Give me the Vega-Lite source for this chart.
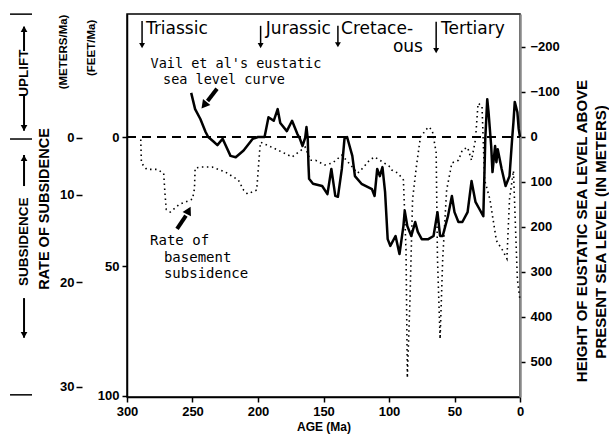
{
  "$schema": "https://vega.github.io/schema/vega-lite/v6.json",
  "width": 393,
  "height": 383,
  "autosize": {"type": "none"},
  "padding": {"left": 127, "top": 14, "right": 89, "bottom": 41},
  "background": "white",
  "config": {
    "view": {"stroke": "black", "strokeWidth": 1.5},
    "axis": {"grid": false, "labelFont": "Liberation Sans", "labelFontWeight": "bold", "labelFontSize": 13, "labelColor": "black", "domainColor": "black", "domainWidth": 1.5, "tickColor": "black", "tickWidth": 1.5, "titleFont": "Liberation Sans", "titleFontWeight": "bold", "titleFontSize": 12, "titleColor": "black", "labelFlush": false}
  },
  "encoding": {
    "x": {"field": "age", "type": "quantitative", "scale": {"domain": [0, 300], "reverse": true, "nice": false, "zero": false}, "axis": {"values": [300, 250, 200, 150, 100, 50, 0], "tickSize": 5, "labelPadding": 3, "title": "AGE (Ma)", "titlePadding": 3}}
  },
  "layer": [
    {
      "encoding": {
        "y": {"field": "m", "type": "quantitative", "scale": {"domain": [-273.3, 577.8], "reverse": true, "nice": false, "zero": false}, "axis": {"orient": "right", "values": [-200, -100, 0, 100, 200, 300, 400, 500], "title": null, "tickSize": 5, "labelPadding": 5, "domainColor": "#888", "domainWidth": 2.5}}
      },
      "layer": [
        {
          "data": {"values": [{"age": 300, "age2": 0, "m": 0}]},
          "mark": {"type": "rule", "strokeDash": [9, 6], "strokeWidth": 2, "color": "black"},
          "encoding": {"x2": {"field": "age2"}}
        },
        {
          "data": {"values": [
            {"age": 251, "m": -98}, {"age": 248, "m": -62}, {"age": 244, "m": -40}, {"age": 240, "m": -11},
            {"age": 238, "m": 0}, {"age": 234, "m": 10}, {"age": 231, "m": 18}, {"age": 227, "m": 4},
            {"age": 221, "m": 42}, {"age": 217, "m": 45}, {"age": 211, "m": 30}, {"age": 204, "m": 4},
            {"age": 200, "m": 0}, {"age": 195, "m": 0}, {"age": 192, "m": -44}, {"age": 188, "m": -36},
            {"age": 185, "m": -62}, {"age": 183, "m": -31}, {"age": 178, "m": -13}, {"age": 174, "m": -36},
            {"age": 170, "m": -7}, {"age": 168, "m": 4}, {"age": 166, "m": 20}, {"age": 164, "m": 2},
            {"age": 163, "m": -22}, {"age": 162, "m": 5}, {"age": 161.5, "m": 60}, {"age": 161, "m": 93},
            {"age": 158, "m": 104}, {"age": 151, "m": 109}, {"age": 147, "m": 127}, {"age": 144, "m": 71},
            {"age": 141, "m": 131}, {"age": 139, "m": 133}, {"age": 136, "m": 71}, {"age": 134, "m": 4},
            {"age": 132, "m": 0}, {"age": 128, "m": 42}, {"age": 126, "m": 87}, {"age": 121, "m": 104},
            {"age": 113, "m": 116}, {"age": 111, "m": 131}, {"age": 109, "m": 71}, {"age": 107, "m": 87},
            {"age": 105, "m": 67}, {"age": 103, "m": 122}, {"age": 101, "m": 227}, {"age": 99, "m": 242},
            {"age": 95, "m": 220}, {"age": 92, "m": 260}, {"age": 89, "m": 198}, {"age": 88, "m": 164},
            {"age": 86, "m": 198}, {"age": 83, "m": 220}, {"age": 80, "m": 189}, {"age": 78, "m": 211},
            {"age": 75, "m": 227}, {"age": 70, "m": 227}, {"age": 66, "m": 220}, {"age": 63, "m": 167},
            {"age": 61, "m": 220}, {"age": 59, "m": 220}, {"age": 55, "m": 176}, {"age": 52, "m": 131},
            {"age": 50, "m": 167}, {"age": 47, "m": 189}, {"age": 44, "m": 189}, {"age": 40, "m": 167},
            {"age": 37, "m": 98}, {"age": 34, "m": 144}, {"age": 31, "m": 160}, {"age": 28, "m": 176},
            {"age": 27, "m": 64}, {"age": 26.5, "m": 4}, {"age": 25, "m": -84}, {"age": 24, "m": -55},
            {"age": 22, "m": 20}, {"age": 21, "m": 78}, {"age": 19, "m": 20}, {"age": 18, "m": 56},
            {"age": 17, "m": 27}, {"age": 14, "m": 71}, {"age": 11, "m": 109}, {"age": 8, "m": 87},
            {"age": 6, "m": 4}, {"age": 5, "m": -33}, {"age": 4, "m": -78}, {"age": 2, "m": -55},
            {"age": 1, "m": -18}, {"age": 0, "m": 0}
          ]},
          "mark": {"type": "line", "color": "black", "strokeWidth": 2.5, "strokeJoin": "round"},
          "encoding": {"order": {"value": null}}
        },
        {
          "data": {"values": [
            {"label": "Triassic", "age": 285.5, "m": -240},
            {"label": "Jurassic", "age": 194, "m": -240},
            {"label": "Cretace-", "age": 136.6, "m": -240},
            {"label": "ous", "age": 97, "m": -200},
            {"label": "Tertiary", "age": 60.3, "m": -240}
          ]},
          "mark": {"type": "text", "font": "DejaVu Sans", "fontSize": 17, "align": "left", "baseline": "middle", "color": "black"},
          "encoding": {"text": {"field": "label"}}
        },
        {
          "data": {"values": [
            {"age": 288.5, "m": -258, "m2": -203},
            {"age": 198, "m": -247, "m2": -203},
            {"age": 139, "m": -247, "m2": -205},
            {"age": 64, "m": -256, "m2": -192}
          ]},
          "mark": {"type": "rule", "color": "black", "strokeWidth": 1.5},
          "encoding": {"y2": {"field": "m2"}}
        },
        {
          "data": {"values": [
            {"age": 288.5, "m": -203}, {"age": 198, "m": -203}, {"age": 139, "m": -205}, {"age": 64, "m": -192}
          ]},
          "mark": {"type": "point", "shape": "triangle-down", "filled": true, "color": "black", "size": 35, "opacity": 1}
        },
        {
          "data": {"values": [
            {"label": "Vail et al's eustatic", "age": 282, "m": -162},
            {"label": "sea  level  curve", "age": 272.5, "m": -127}
          ]},
          "mark": {"type": "text", "font": "DejaVu Sans Mono", "fontSize": 13.5, "align": "left", "baseline": "middle", "color": "black"},
          "encoding": {"text": {"field": "label"}}
        },
        {
          "data": {"values": [
            {"label": "Rate of", "age": 282.4, "m": 232},
            {"label": "basement", "age": 271.8, "m": 268},
            {"label": "subsidence", "age": 271.8, "m": 304}
          ]},
          "mark": {"type": "text", "font": "DejaVu Sans Mono", "fontSize": 14, "align": "left", "baseline": "middle", "color": "black"},
          "encoding": {"text": {"field": "label"}}
        },
        {
          "data": {"values": [
            {"age": 231.3, "age2": 238.5, "m": -107, "m2": -80},
            {"age": 261.8, "age2": 255, "m": 204, "m2": 175}
          ]},
          "mark": {"type": "rule", "color": "black", "strokeWidth": 4},
          "encoding": {"x2": {"field": "age2"}, "y2": {"field": "m2"}}
        },
        {
          "data": {"values": [{"age": 240.5, "m": -73}]},
          "mark": {"type": "point", "shape": "triangle", "filled": true, "color": "black", "size": 90, "angle": 219, "opacity": 1}
        },
        {
          "data": {"values": [{"age": 253.4, "m": 166}]},
          "mark": {"type": "point", "shape": "triangle", "filled": true, "color": "black", "size": 90, "angle": 28, "opacity": 1}
        },
        {
          "data": {"values": [
            {"label": "RATE  OF  SUBSIDENCE", "age": 362.6, "m": 160}
          ]},
          "mark": {"type": "text", "font": "Liberation Sans", "fontWeight": "bold", "fontSize": 14.5, "angle": 270, "align": "center", "baseline": "middle", "color": "black"},
          "encoding": {"text": {"field": "label"}}
        },
        {
          "data": {"values": [
            {"label": "UPLIFT", "age": 378.6, "m": -142},
            {"label": "SUBSIDENCE", "age": 378.6, "m": 233}
          ]},
          "mark": {"type": "text", "font": "Liberation Sans", "fontWeight": "bold", "fontSize": 13.5, "angle": 270, "align": "center", "baseline": "middle", "color": "black"},
          "encoding": {"text": {"field": "label"}}
        },
        {
          "data": {"values": [
            {"label": "(METERS/Ma)", "age": 348, "m": -189},
            {"label": "(FEET/Ma)", "age": 326.7, "m": -198}
          ]},
          "mark": {"type": "text", "font": "Liberation Sans", "fontWeight": "bold", "fontSize": 11.5, "angle": 270, "align": "center", "baseline": "middle", "color": "black"},
          "encoding": {"text": {"field": "label"}}
        },
        {
          "data": {"values": [
            {"label": "HEIGHT  OF  EUSTATIC  SEA  LEVEL  ABOVE", "age": -47.3, "m": 209},
            {"label": "PRESENT  SEA  LEVEL  (IN  METERS)", "age": -61.8, "m": 211}
          ]},
          "mark": {"type": "text", "font": "Liberation Sans", "fontWeight": "bold", "fontSize": 15, "angle": 270, "align": "center", "baseline": "middle", "color": "black"},
          "encoding": {"text": {"field": "label"}}
        },
        {
          "data": {"values": [
            {"age": 378.6, "m": -245, "m2": -191},
            {"age": 378.6, "m": -93, "m2": -14},
            {"age": 378.6, "m": 40, "m2": 109},
            {"age": 378.6, "m": 358, "m2": 446}
          ]},
          "mark": {"type": "rule", "color": "black", "strokeWidth": 2},
          "encoding": {"y2": {"field": "m2"}}
        },
        {
          "data": {"values": [{"age": 378.6, "m": -240}, {"age": 378.6, "m": 47}]},
          "mark": {"type": "point", "shape": "triangle-up", "filled": true, "color": "black", "size": 45, "opacity": 1}
        },
        {
          "data": {"values": [{"age": 378.6, "m": -20}, {"age": 378.6, "m": 440}]},
          "mark": {"type": "point", "shape": "triangle-down", "filled": true, "color": "black", "size": 45, "opacity": 1}
        },
        {
          "data": {"values": [
            {"age": 389.3, "age2": 372.5, "m": -273},
            {"age": 389.3, "age2": 372.5, "m": 4.5},
            {"age": 389.3, "age2": 372.5, "m": 573}
          ]},
          "mark": {"type": "rule", "color": "black", "strokeWidth": 1.5},
          "encoding": {"x2": {"field": "age2"}}
        }
      ]
    },
    {
      "data": {"values": [
        {"age": 289.5, "f": 1}, {"age": 289, "f": 10}, {"age": 285, "f": 12.5}, {"age": 277, "f": 12.5},
        {"age": 272, "f": 14}, {"age": 271, "f": 22}, {"age": 270, "f": 28}, {"age": 267, "f": 29},
        {"age": 260, "f": 26}, {"age": 250, "f": 24}, {"age": 248.5, "f": 20}, {"age": 248, "f": 12},
        {"age": 243, "f": 11.6}, {"age": 235, "f": 11.6}, {"age": 225, "f": 13.5}, {"age": 215, "f": 16.6},
        {"age": 211, "f": 20.5}, {"age": 208, "f": 22}, {"age": 201, "f": 20.5}, {"age": 198.5, "f": 3.9},
        {"age": 198, "f": 2}, {"age": 185, "f": 5}, {"age": 174, "f": 7.7}, {"age": 164, "f": 3.9},
        {"age": 160, "f": 9}, {"age": 156, "f": 9}, {"age": 149, "f": 10.8}, {"age": 143, "f": 10},
        {"age": 136, "f": 7}, {"age": 128, "f": 11.6}, {"age": 124, "f": 14}, {"age": 120, "f": 12},
        {"age": 115, "f": 9}, {"age": 111, "f": 7.7}, {"age": 105, "f": 9.6}, {"age": 99, "f": 11.6},
        {"age": 98, "f": 12.7}, {"age": 93, "f": 14}, {"age": 89, "f": 16.6}, {"age": 87, "f": 43.6},
        {"age": 86, "f": 93}, {"age": 84, "f": 63}, {"age": 82, "f": 24}, {"age": 79, "f": 11},
        {"age": 76, "f": 0}, {"age": 70, "f": -3.9}, {"age": 67, "f": -2.7}, {"age": 64, "f": 6},
        {"age": 63, "f": 47}, {"age": 61, "f": 78}, {"age": 59, "f": 47}, {"age": 56, "f": 20.5},
        {"age": 52, "f": 10}, {"age": 47, "f": 9}, {"age": 44, "f": 5}, {"age": 40, "f": 4},
        {"age": 37, "f": 9}, {"age": 34, "f": 1}, {"age": 32, "f": -13}, {"age": 29, "f": -12},
        {"age": 27, "f": 16.6}, {"age": 23, "f": 24}, {"age": 18, "f": 40}, {"age": 13, "f": 44},
        {"age": 10, "f": 47}, {"age": 8, "f": 24}, {"age": 5, "f": 13}, {"age": 2, "f": 55},
        {"age": 0, "f": 63}
      ]},
      "mark": {"type": "line", "color": "black", "strokeWidth": 1.6, "strokeDash": [1.5, 3.5]},
      "encoding": {
        "order": {"value": null},
        "y": {"field": "f", "type": "quantitative", "scale": {"domain": [-47.5, 100.4], "reverse": true, "nice": false, "zero": false}, "axis": {"orient": "left", "values": [0, 50, 100], "title": null, "tickSize": 5, "labelPadding": 3}}
      }
    },
    {
      "data": {"values": [{"age": 150, "v": 0}]},
      "mark": {"type": "point", "opacity": 0},
      "encoding": {
        "y": {"field": "v", "type": "quantitative", "scale": {"type": "pow", "exponent": 1.34, "domain": [-17.8, 30.9], "reverse": true, "nice": false, "zero": false}, "axis": {"orient": "left", "offset": 45, "domain": false, "values": [0, 10, 20, 30], "title": null, "tickSize": 6, "labelPadding": 2}}
      }
    }
  ],
  "resolve": {"scale": {"y": "independent"}}
}
